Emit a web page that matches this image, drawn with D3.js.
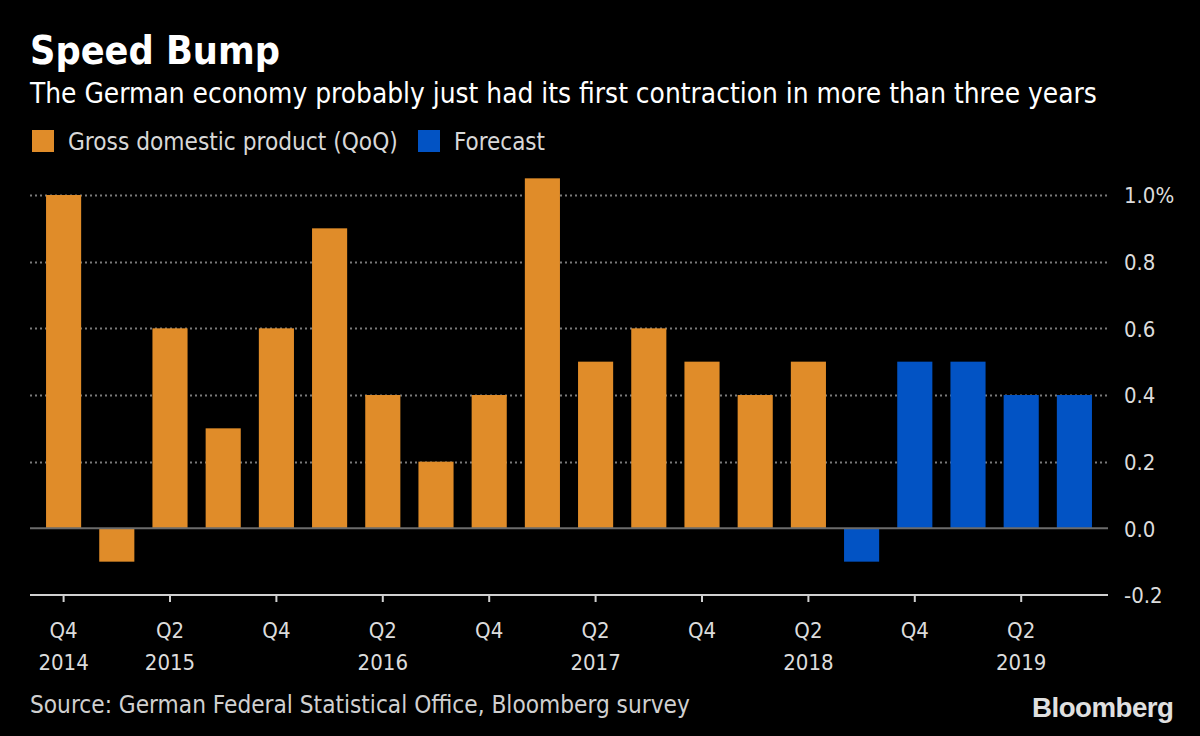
<!DOCTYPE html>
<html><head><meta charset="utf-8">
<script src="https://cdn.jsdelivr.net/npm/d3@7"></script>
<style>
html,body{margin:0;padding:0;background:#000;}
svg{display:block;}
</style></head>
<body>
<script>
// ---- data ----
const categories = ["Q4 2014","Q1 2015","Q2 2015","Q3 2015","Q4 2015","Q1 2016","Q2 2016","Q3 2016","Q4 2016","Q1 2017","Q2 2017","Q3 2017","Q4 2017","Q1 2018","Q2 2018","Q3 2018","Q4 2018","Q1 2019","Q2 2019","Q3 2019"];
const gdpValues = [1.0, -0.1, 0.6, 0.3, 0.6, 0.9, 0.4, 0.2, 0.4, 1.05, 0.5, 0.6, 0.5, 0.4, 0.5, null, null, null, null, null];
const forecastValues = [null, null, null, null, null, null, null, null, null, null, null, null, null, null, null, -0.1, 0.5, 0.5, 0.4, 0.4];
const tickCategories = ["Q4 2014","Q2 2015","Q4 2015","Q2 2016","Q4 2016","Q2 2017","Q4 2017","Q2 2018","Q4 2018","Q2 2019"];
const tickQuarterLabels = ["Q4","Q2","Q4","Q2","Q4","Q2","Q4","Q2","Q4","Q2"];
const tickYearLabels = ["2014","2015","","2016","","2017","","2018","","2019"];
const yTicks = [-0.2, 0, 0.2, 0.4, 0.6, 0.8, 1.0];
const yTickLabels = ["-0.2", "0.0", "0.2", "0.4", "0.6", "0.8", "1.0%"];
const title = "Speed Bump";
const subtitle = "The German economy probably just had its first contraction in more than three years";
const legendLabels = ["Gross domestic product (QoQ)", "Forecast"];
const source = "Source: German Federal Statistical Office, Bloomberg survey";

const W = 1200, H = 736;
const ORANGE = "#E08C29", BLUE = "#0253C4";
const FONT = "'Liberation Sans Narrow','DejaVu Sans Condensed','Liberation Sans',sans-serif";

const svg = d3.select("body").append("svg").attr("width", W).attr("height", H)
  .style("background", "#000");

function fit(sel, target) {
  const w = sel.node().getComputedTextLength();
  const fs = parseFloat(sel.attr("font-size"));
  sel.attr("font-size", (fs * target / w).toFixed(2));
}

// scales
const x = d3.scaleBand().domain(categories).range([37, 1101]).paddingInner(0.34).paddingOuter(0.17);
const y = d3.scaleLinear().domain([-0.2, 1.0]).range([595, 195]);
const axisLeft = 30, axisRight = 1108;

// gridlines (dotted)
svg.append("g").selectAll("line").data(yTicks.filter(d => d > 0)).join("line")
  .attr("x1", axisLeft).attr("x2", axisRight)
  .attr("y1", d => Math.round(y(d)) + 0.5).attr("y2", d => Math.round(y(d)) + 0.5)
  .attr("stroke", "#7a7a7a").attr("stroke-width", 2).attr("stroke-dasharray", "2,3");

// bars
const gdpData = categories.map((c, i) => ({c, v: gdpValues[i]})).filter(d => d.v !== null);
const fcData = categories.map((c, i) => ({c, v: forecastValues[i]})).filter(d => d.v !== null);
function drawBars(data, color) {
  svg.append("g").selectAll("rect").data(data).join("rect")
    .attr("x", d => x(d.c)).attr("width", x.bandwidth())
    .attr("y", d => y(Math.max(0, d.v)))
    .attr("height", d => Math.abs(y(d.v) - y(0)))
    .attr("fill", color);
}
drawBars(gdpData, ORANGE);
drawBars(fcData, BLUE);

// zero line
svg.append("line").attr("x1", axisLeft).attr("x2", axisRight)
  .attr("y1", y(0)).attr("y2", y(0)).attr("stroke", "#6b6b6b").attr("stroke-width", 2);

// bottom axis
const xAxis = d3.axisBottom(x).tickValues(tickCategories).tickSize(7).tickFormat("");
const gx = svg.append("g").attr("transform", `translate(0,${y(-0.2)})`).call(xAxis);
gx.select(".domain").remove();
gx.selectAll(".tick line").attr("stroke", "#d0d0d0").attr("stroke-width", 2);
svg.append("line").attr("x1", axisLeft).attr("x2", axisRight)
  .attr("y1", y(-0.2)).attr("y2", y(-0.2)).attr("stroke", "#d0d0d0").attr("stroke-width", 2);

// x labels
const cx = c => x(c) + x.bandwidth() / 2;
svg.append("g").selectAll("text").data(tickCategories).join("text")
  .attr("x", cx).attr("y", 638).attr("text-anchor", "middle")
  .attr("font-family", FONT).attr("font-size", 22).attr("fill", "#dcdcdc")
  .text((d, i) => tickQuarterLabels[i]);
svg.append("g").selectAll("text").data(tickCategories).join("text")
  .attr("x", cx).attr("y", 670).attr("text-anchor", "middle")
  .attr("font-family", FONT).attr("font-size", 22).attr("fill", "#dcdcdc")
  .text((d, i) => tickYearLabels[i]);

// y labels (right)
const yAxis = d3.axisRight(y).tickValues(yTicks).tickSize(0)
  .tickFormat((d, i) => yTickLabels[i]);
const gy = svg.append("g").attr("transform", `translate(1112,0)`).call(yAxis);
gy.select(".domain").remove();
gy.selectAll("text").attr("x", 12).attr("dy", "0.35em")
  .attr("font-family", FONT).attr("font-size", 22).attr("fill", "#dcdcdc");

// title & subtitle
const t = svg.append("text").attr("x", 30).attr("y", 64).attr("font-family", FONT)
  .attr("font-weight", "bold").attr("font-size", 36).attr("fill", "#fff").text(title);
fit(t, 250);
const st = svg.append("text").attr("x", 30).attr("y", 103).attr("font-family", FONT)
  .attr("font-size", 26).attr("fill", "#fff").text(subtitle);
fit(st, 1067);

// legend
const legend = [{label: legendLabels[0], color: ORANGE, x: 32, w: 330},
                {label: legendLabels[1], color: BLUE, x: 418, w: 91}];
legend.forEach(l => {
  svg.append("rect").attr("x", l.x).attr("y", 130).attr("width", 22).attr("height", 22).attr("fill", l.color);
  const lt = svg.append("text").attr("x", l.x + 36).attr("y", 150).attr("font-family", FONT)
    .attr("font-size", 23).attr("fill", "#d8d8d8").text(l.label);
  fit(lt, l.w);
});

// source
const src = svg.append("text").attr("x", 30).attr("y", 713).attr("font-family", FONT)
  .attr("font-size", 23).attr("fill", "#d0d0d0").text(source);
fit(src, 660);

// Bloomberg logo
const bl = svg.append("text").attr("x", 1032).attr("y", 717).attr("font-family", "'Liberation Sans','DejaVu Sans',sans-serif")
  .attr("font-weight", "bold").attr("font-size", 25).attr("fill", "#e0e0e0")
  .attr("letter-spacing", -0.5).text("Bloomberg");
fit(bl, 141);
</script>
</body></html>
